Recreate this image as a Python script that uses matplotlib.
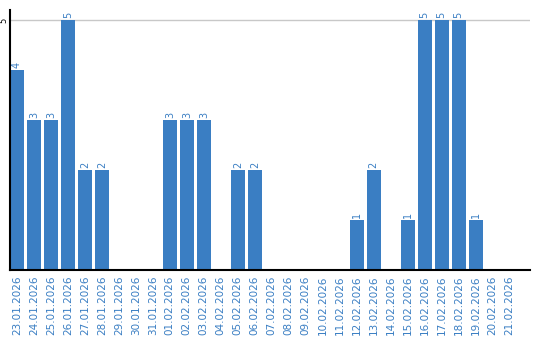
import numpy as np
import matplotlib.pyplot as plt

dates = ['23.01.2026', '24.01.2026', '25.01.2026', '26.01.2026', '27.01.2026',
         '28.01.2026', '29.01.2026', '30.01.2026', '31.01.2026', '01.02.2026',
         '02.02.2026', '03.02.2026', '04.02.2026', '05.02.2026', '06.02.2026',
         '07.02.2026', '08.02.2026', '09.02.2026', '10.02.2026', '11.02.2026',
         '12.02.2026', '13.02.2026', '14.02.2026', '15.02.2026', '16.02.2026',
         '17.02.2026', '18.02.2026', '19.02.2026', '20.02.2026', '21.02.2026']
counts = [4, 3, 3, 5, 2, 2, 0, 0, 0, 3, 3, 3, 0, 2, 2,
          0, 0, 0, 0, 0, 1, 2, 0, 1, 5, 5, 5, 1, 0, 0]

blue = '#3a7ec3'

fig = plt.figure(figsize=(5.4, 3.4), dpi=100)
ax = fig.add_axes([10 / 540, 70 / 340, 520 / 540, 260 / 340])

x = np.arange(len(dates))
ax.bar(x, counts, width=0.82, color=blue, zorder=2)

# value labels above the non-empty bars
for xi, v in zip(x, counts):
    if v > 0:
        ax.text(xi, v + 0.04, str(v), rotation=90, ha='center', va='bottom',
                color=blue, fontsize=7)

ax.set_xlim(-0.41, 30.2)
ax.set_ylim(0, 5.2)
ax.set_yticks([5])
ax.set_yticklabels(['5'], rotation=90, va='center', fontsize=6)
ax.yaxis.grid(True, color='#c8c8c8', linewidth=1, zorder=0)
ax.tick_params(axis='y', length=0, pad=1)

ax.set_xticks(x)
ax.set_xticklabels(dates, rotation=90, color=blue, fontsize=7.5)
ax.tick_params(axis='x', length=0, pad=4)

for side in ['top', 'right']:
    ax.spines[side].set_visible(False)
ax.spines['left'].set_linewidth(1.5)
ax.spines['bottom'].set_linewidth(1.5)

plt.savefig('out.png', dpi=100)
